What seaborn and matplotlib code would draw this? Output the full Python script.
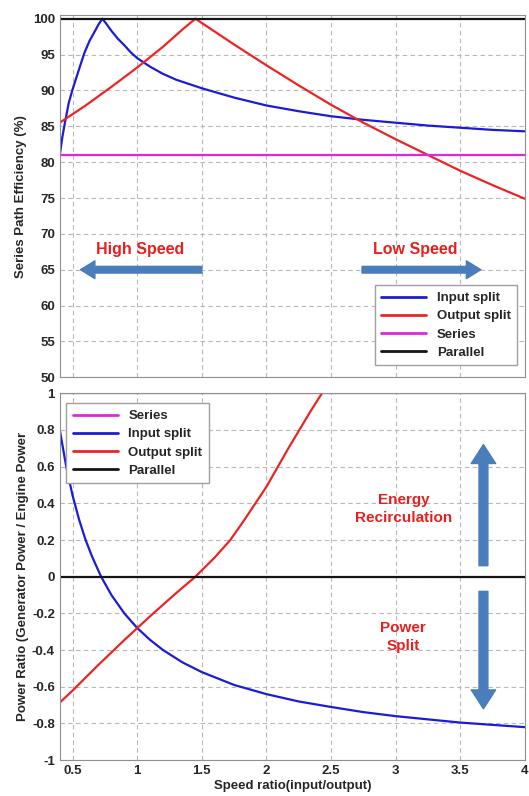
import pandas as pd
import seaborn as sns
import matplotlib.pyplot as plt

# data
# top: series path efficiency (%)
eff_in_x = [0.4, 0.42, 0.44, 0.47, 0.5, 0.55, 0.59, 0.63, 0.67, 0.7, 0.73, 0.76, 0.8, 0.85, 0.9, 0.95, 1.0, 1.1, 1.2, 1.3, 1.4, 1.5, 1.75, 2.0, 2.25, 2.5, 2.75, 3.0, 3.25, 3.5, 3.75, 4.0]
eff_in_y = [81.0, 83.5, 85.5, 88.3, 90.2, 93.0, 95.2, 96.9, 98.2, 99.2, 100.0, 99.3, 98.3, 97.2, 96.3, 95.3, 94.5, 93.3, 92.3, 91.5, 90.9, 90.3, 89.0, 87.9, 87.1, 86.4, 85.9, 85.5, 85.1, 84.8, 84.5, 84.3]
eff_out_x = [0.4, 0.6, 0.8, 1.0, 1.2, 1.35, 1.45, 1.6, 1.75, 2.0, 2.25, 2.5, 2.75, 3.0, 3.25, 3.5, 3.75, 4.0]
eff_out_y = [85.5, 87.9, 90.5, 93.2, 96.1, 98.5, 100.0, 98.2, 96.4, 93.5, 90.7, 88.0, 85.5, 83.2, 81.0, 78.8, 76.8, 74.9]
eff_series = [81.0, 81.0]
eff_parallel = [100.0, 100.0]
x_ends = [0.4, 4.0]

# bottom: power ratio
pr_in_x = [0.4, 0.45, 0.5, 0.55, 0.6, 0.65, 0.72, 0.8, 0.9, 1.0, 1.1, 1.2, 1.35, 1.5, 1.75, 2.0, 2.25, 2.5, 2.75, 3.0, 3.5, 4.0]
pr_in_y = [0.80, 0.60, 0.44, 0.31, 0.20, 0.11, 0.0, -0.10, -0.20, -0.28, -0.345, -0.40, -0.467, -0.52, -0.59, -0.64, -0.68, -0.71, -0.738, -0.76, -0.795, -0.82]
pr_out_x = [0.4, 0.5, 0.7, 0.9, 1.1, 1.3, 1.45, 1.6, 1.72, 1.82, 2.0, 2.17, 2.34, 2.43]
pr_out_y = [-0.686, -0.62, -0.48, -0.345, -0.215, -0.09, 0.0, 0.105, 0.2, 0.3, 0.49, 0.7, 0.9, 1.0]
pr_series = [1.0, 1.0]
pr_parallel = [0.0, 0.0]

colors = {'Input split': '#1c1cd8', 'Output split': '#ec2424',
          'Series': '#e026e0', 'Parallel': '#151515'}

def frame(parts):
    rows = []
    for name, xs, ys in parts:
        for x, y in zip(xs, ys):
            rows.append({'x': x, 'y': y, 'mode': name})
    return pd.DataFrame(rows)

top = frame([('Input split', eff_in_x, eff_in_y), ('Output split', eff_out_x, eff_out_y),
             ('Series', x_ends, eff_series), ('Parallel', x_ends, eff_parallel)])
bot = frame([('Series', x_ends, pr_series), ('Input split', pr_in_x, pr_in_y),
             ('Output split', pr_out_x, pr_out_y), ('Parallel', x_ends, pr_parallel)])

sns.set_style('whitegrid', {'grid.linestyle': (0, (4, 3)), 'grid.color': '#b8b8b8',
                            'axes.edgecolor': '#909090'})
plt.rcParams['font.family'] = ['Liberation Sans', 'DejaVu Sans']
plt.rcParams['font.weight'] = 'bold'

fig = plt.figure(figsize=(5.29, 7.96), dpi=100)
ax1 = fig.add_axes([0.113, 0.526, 0.879, 0.455])
ax2 = fig.add_axes([0.113, 0.045, 0.879, 0.461])

sns.lineplot(data=top, x='x', y='y', hue='mode', palette=colors, sort=False,
             hue_order=['Input split', 'Output split', 'Series', 'Parallel'], lw=1.6, ax=ax1)
sns.lineplot(data=bot, x='x', y='y', hue='mode', palette=colors, sort=False,
             hue_order=['Series', 'Input split', 'Output split', 'Parallel'], lw=1.6, ax=ax2)

xt = [0.5, 1, 1.5, 2, 2.5, 3, 3.5, 4]
for ax in (ax1, ax2):
    ax.set_xlim(0.4, 4)
    ax.set_xticks(xt)
    ax.tick_params(labelsize=9.5, length=0)
    for lab in ax.get_xticklabels() + ax.get_yticklabels():
        lab.set_fontweight('bold')

ax1.set_ylim(50, 100.5)
ax1.set_yticks(range(50, 101, 5))
ax1.set_xticklabels([])
ax1.set_xlabel('')
ax1.set_ylabel('Series Path Efficiency (%)', fontsize=9.5, fontweight='bold', labelpad=4)

ax2.set_ylim(-1, 1)
ax2.set_yticks([-1, -0.8, -0.6, -0.4, -0.2, 0, 0.2, 0.4, 0.6, 0.8, 1])
ax2.set_yticklabels(['-1', '-0.8', '-0.6', '-0.4', '-0.2', '0', '0.2', '0.4', '0.6', '0.8', '1'])
ax2.set_xticklabels(['0.5', '1', '1.5', '2', '2.5', '3', '3.5', '4'])
ax2.set_xlabel('Speed ratio(input/output)', fontsize=9.5, fontweight='bold', labelpad=2)
ax2.set_ylabel('Power Ratio (Generator Power / Engine Power', fontsize=9.5, fontweight='bold', labelpad=2)

leg1 = ax1.legend(loc='lower right', bbox_to_anchor=(0.998, 0.015), fontsize=9.5, frameon=True,
                  fancybox=False, framealpha=1, edgecolor='#a0a0a0', handlelength=3.4,
                  borderpad=0.5, labelspacing=0.45)
leg2 = ax2.legend(loc='upper left', bbox_to_anchor=(0.0, 0.99), fontsize=9.5, frameon=True,
                  fancybox=False, framealpha=1, edgecolor='#a0a0a0', handlelength=3.4,
                  borderpad=0.5, labelspacing=0.45)
for leg in (leg1, leg2):
    leg.set_title(None)
    for t in leg.get_texts():
        t.set_fontweight('bold')
    for h in leg.get_lines():
        h.set_linewidth(2)

arrow_c = '#4a7ebb'
hstyle = 'simple,head_width=0.8,head_length=0.65,tail_width=0.3'
vstyle = 'simple,head_width=1.1,head_length=0.85,tail_width=0.4'
ax1.annotate('', xy=(0.56, 65), xytext=(1.5, 65),
             arrowprops=dict(arrowstyle=hstyle, color=arrow_c, mutation_scale=16, shrinkA=0, shrinkB=0))
ax1.annotate('', xy=(3.66, 65), xytext=(2.74, 65),
             arrowprops=dict(arrowstyle=hstyle, color=arrow_c, mutation_scale=16, shrinkA=0, shrinkB=0))
ax1.text(1.02, 67.8, 'High Speed', color='#e62020', fontsize=11.5, fontweight='bold', ha='center', va='center')
ax1.text(3.15, 67.8, 'Low Speed', color='#e62020', fontsize=11.5, fontweight='bold', ha='center', va='center')

ax2.annotate('', xy=(3.68, 0.72), xytext=(3.68, 0.06),
             arrowprops=dict(arrowstyle=vstyle, color=arrow_c, mutation_scale=16, shrinkA=0, shrinkB=0))
ax2.annotate('', xy=(3.68, -0.72), xytext=(3.68, -0.08),
             arrowprops=dict(arrowstyle=vstyle, color=arrow_c, mutation_scale=16, shrinkA=0, shrinkB=0))
ax2.text(3.06, 0.37, 'Energy\nRecirculation', color='#e62020', fontsize=11, fontweight='bold',
         ha='center', va='center', linespacing=1.35)
ax2.text(3.06, -0.33, 'Power\nSplit', color='#e62020', fontsize=11, fontweight='bold',
         ha='center', va='center', linespacing=1.35)

fig.savefig('out.png', dpi=100)
